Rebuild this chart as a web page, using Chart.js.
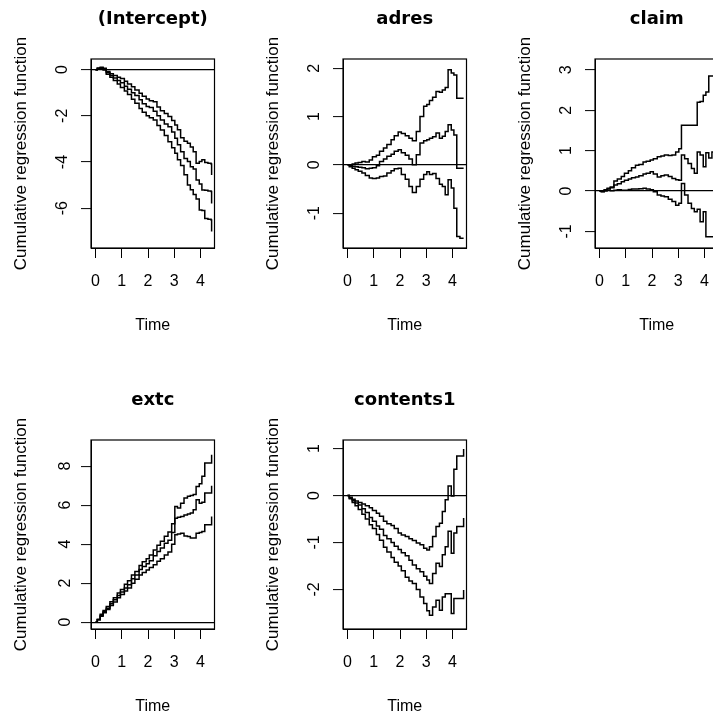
<!DOCTYPE html>
<html>
<head>
<meta charset="utf-8">
<script src="https://cdn.jsdelivr.net/npm/chart.js@4.4.0/dist/chart.umd.min.js"></script>
<style>
  html, body { margin: 0; padding: 0; background: #fff; overflow: hidden; }
  #wrap { position: relative; width: 713px; height: 715px; overflow: hidden; background: #fff; }
  #wrap canvas { position: absolute; }
</style>
</head>
<body>
<div id="wrap"></div>
<script>
// jump times shared by every covariate
const times = [0, 0.07, 0.18, 0.29, 0.41, 0.55, 0.68, 0.83, 0.95, 1.1, 1.22, 1.37, 1.5, 1.66, 1.78, 1.93,
  2.05, 2.2, 2.34, 2.47, 2.62, 2.76, 2.9, 3.02, 3.12, 3.24, 3.37, 3.5, 3.61, 3.72, 3.83, 3.95,
  4.05, 4.16, 4.28, 4.4, 4.42];
const xTicks = [0, 1, 2, 3, 4];

// (Intercept)
const interceptUpper = [0, 0.06, 0.1, 0.06, -0.08, -0.18, -0.25, -0.33, -0.38, -0.5, -0.62, -0.74, -0.88, -1.02, -1.15, -1.27,
  -1.35, -1.39, -1.62, -1.78, -1.9, -2.03, -2.2, -2.4, -2.6, -2.95, -3.1, -3.19, -3.35, -3.55, -4.05, -3.98,
  -3.9, -4.02, -4.05, -4.08, -4.56];
const interceptEst = [0, 0.06, 0.08, 0.02, -0.14, -0.25, -0.36, -0.47, -0.57, -0.72, -0.85, -1.0, -1.12, -1.3, -1.48, -1.6,
  -1.64, -1.8, -2.0, -2.18, -2.35, -2.47, -2.7, -2.97, -3.25, -3.55, -3.85, -3.98, -4.2, -4.3, -4.78, -4.95,
  -5.21, -5.22, -5.25, -5.28, -5.79];
const interceptLower = [0, 0.05, 0.06, -0.02, -0.2, -0.33, -0.47, -0.62, -0.77, -0.93, -1.08, -1.28, -1.46, -1.68, -1.85, -2.0,
  -2.08, -2.18, -2.42, -2.61, -2.85, -3.12, -3.38, -3.62, -3.9, -4.15, -4.55, -4.99, -5.2, -5.4, -5.6, -6.08,
  -6.1, -6.44, -6.48, -6.51, -7.01];
const interceptTicks = [-6, -4, -2, 0];

// adres
const adresUpper = [0, 0.0, 0.02, 0.04, 0.05, 0.07, 0.06, 0.1, 0.17, 0.2, 0.28, 0.35, 0.42, 0.52, 0.6, 0.68,
  0.65, 0.6, 0.55, 0.5, 0.69, 1.0, 1.21, 1.25, 1.33, 1.4, 1.52, 1.5, 1.55, 1.6, 1.97, 1.9,
  1.86, 1.38, 1.38, 1.38, 1.38];
const adresEst = [0, -0.02, -0.03, -0.04, -0.05, -0.06, -0.08, -0.07, -0.06, -0.02, 0.07, 0.12, 0.18, 0.22, 0.28, 0.31,
  0.25, 0.2, 0.12, 0.0, 0.21, 0.45, 0.5, 0.52, 0.55, 0.58, 0.66, 0.55, 0.59, 0.69, 0.83, 0.72,
  0.62, -0.07, -0.07, -0.07, -0.07];
const adresLower = [0, -0.04, -0.07, -0.1, -0.13, -0.17, -0.22, -0.27, -0.28, -0.27, -0.24, -0.23, -0.17, -0.12, -0.08, -0.07,
  -0.2, -0.3, -0.45, -0.57, -0.45, -0.3, -0.2, -0.14, -0.2, -0.18, -0.28, -0.4, -0.45, -0.62, -0.31, -0.48,
  -0.9, -1.48, -1.52, -1.52, -1.52];
const adresTicks = [-1, 0, 1, 2];

// claim
const claimUpper = [0, 0.0, 0.03, 0.07, 0.1, 0.25, 0.3, 0.36, 0.44, 0.5, 0.58, 0.64, 0.66, 0.72, 0.74, 0.77,
  0.8, 0.85, 0.87, 0.89, 0.88, 0.89, 0.97, 1.05, 1.63, 1.63, 1.63, 1.63, 1.63, 2.2, 2.22, 2.37,
  2.45, 2.85, 2.85, 2.85, 2.85];
const claimEst = [0, -0.01, 0.02, 0.05, 0.08, 0.15, 0.18, 0.23, 0.27, 0.3, 0.33, 0.35, 0.38, 0.42, 0.44, 0.48,
  0.42, 0.35, 0.38, 0.4, 0.36, 0.31, 0.28, 0.27, 0.89, 0.8, 0.68, 0.56, 0.44, 0.97, 0.89, 0.6,
  0.95, 0.82, 0.97, 0.97, 0.97];
const claimLower = [0, -0.02, 0.0, 0.02, 0.01, 0.02, 0.03, 0.02, 0.02, 0.04, 0.05, 0.05, 0.06, 0.07, 0.05, 0.03,
  -0.02, -0.1, -0.12, -0.14, -0.2, -0.26, -0.35, -0.3, 0.19, -0.1, -0.3, -0.43, -0.51, -0.45, -0.76, -0.51,
  -1.13, -1.13, -1.13, -1.13, -1.13];
const claimTicks = [-1, 0, 1, 2, 3];

// extc
const extcUpper = [0, 0.15, 0.4, 0.6, 0.8, 1.05, 1.25, 1.5, 1.68, 1.95, 2.12, 2.42, 2.6, 2.9, 3.1, 3.25,
  3.45, 3.7, 3.95, 4.15, 4.4, 4.62, 5.05, 5.93, 5.85, 6.1, 6.36, 6.45, 6.5, 6.54, 6.96, 7.1,
  7.48, 8.16, 8.16, 8.16, 8.59];
const extcEst = [0, 0.13, 0.35, 0.55, 0.72, 0.95, 1.15, 1.37, 1.55, 1.75, 1.92, 2.22, 2.42, 2.7, 2.85, 3.0,
  3.15, 3.4, 3.62, 3.8, 4.05, 4.2, 4.6, 5.33, 5.38, 5.42, 5.5, 5.55, 5.6, 5.76, 6.28, 6.1,
  6.15, 6.62, 6.62, 6.62, 7.0];
const extcLower = [0, 0.12, 0.3, 0.48, 0.65, 0.85, 1.03, 1.25, 1.42, 1.6, 1.75, 1.99, 2.2, 2.42, 2.55, 2.68,
  2.8, 2.95, 3.12, 3.25, 3.45, 3.6, 4.0, 4.48, 4.52, 4.56, 4.42, 4.39, 4.31, 4.31, 4.56, 4.6,
  4.65, 4.99, 4.99, 4.99, 5.42];
const extcTicks = [0, 2, 4, 6, 8];

// contents1
const contentsUpper = [0, -0.04, -0.08, -0.12, -0.15, -0.18, -0.22, -0.26, -0.32, -0.38, -0.44, -0.55, -0.6, -0.64, -0.7, -0.8,
  -0.84, -0.87, -0.92, -0.96, -1.01, -1.05, -1.12, -1.16, -1.09, -0.87, -0.66, -0.59, -0.34, -0.09, 0.2, -0.01,
  0.56, 0.84, 0.84, 0.84, 0.99];
const contentsEst = [0, -0.06, -0.11, -0.16, -0.2, -0.28, -0.36, -0.47, -0.55, -0.65, -0.72, -0.85, -0.92, -1.0, -1.08, -1.15,
  -1.22, -1.28, -1.38, -1.48, -1.56, -1.62, -1.72, -1.8, -1.87, -1.66, -1.44, -1.51, -1.26, -1.09, -0.76, -1.23,
  -0.8, -0.66, -0.66, -0.66, -0.48];
const contentsLower = [0, -0.07, -0.15, -0.22, -0.3, -0.4, -0.5, -0.62, -0.7, -0.83, -0.95, -1.1, -1.2, -1.32, -1.42, -1.5,
  -1.6, -1.74, -1.82, -1.87, -2.0, -2.16, -2.3, -2.45, -2.55, -2.37, -2.23, -2.44, -2.16, -2.09, -2.09, -2.51,
  -2.19, -2.19, -2.19, -2.19, -2.01];
const contentsTicks = [-2, -1, 0, 1];

const panels = [
  { title: '(Intercept)', series: [interceptUpper, interceptEst, interceptLower], yTicks: interceptTicks, yMin: -7.72, yMax: 0.46, col: 0, row: 0 },
  { title: 'adres', series: [adresUpper, adresEst, adresLower], yTicks: adresTicks, yMin: -1.72, yMax: 2.19, col: 1, row: 0 },
  { title: 'claim', series: [claimUpper, claimEst, claimLower], yTicks: claimTicks, yMin: -1.41, yMax: 3.27, col: 2, row: 0 },
  { title: 'extc', series: [extcUpper, extcEst, extcLower], yTicks: extcTicks, yMin: -0.35, yMax: 9.34, col: 0, row: 1 },
  { title: 'contents1', series: [contentsUpper, contentsEst, contentsLower], yTicks: contentsTicks, yMin: -2.84, yMax: 1.18, col: 1, row: 1 }
];

const PANEL_W = 252;
const PANEL_H = 381;

// draws the box around the plot region
const boxPlugin = {
  id: 'box',
  afterDraw(chart) {
    const { ctx, chartArea: a } = chart;
    ctx.save();
    ctx.strokeStyle = '#000';
    ctx.lineWidth = 1.2;
    ctx.strokeRect(a.left, a.top, a.right - a.left, a.bottom - a.top);
    ctx.restore();
  }
};

const wrap = document.getElementById('wrap');

panels.forEach(p => {
  const canvas = document.createElement('canvas');
  canvas.width = PANEL_W;
  canvas.height = PANEL_H;
  canvas.style.width = PANEL_W + 'px';
  canvas.style.height = PANEL_H + 'px';
  canvas.style.left = (p.col * PANEL_W) + 'px';
  canvas.style.top = (p.row * PANEL_H) + 'px';
  wrap.appendChild(canvas);

  new Chart(canvas, {
    type: 'line',
    data: {
      datasets: p.series.map(vals => ({
        data: times.map((t, i) => ({ x: t, y: vals[i] })),
        borderColor: '#000',
        borderWidth: 1.5,
        pointRadius: 0,
        stepped: true,
        fill: false
      }))
    },
    options: {
      responsive: false,
      animation: false,
      devicePixelRatio: 1,
      layout: { padding: { left: 0, right: 37.5, top: 0, bottom: 0 } },
      plugins: {
        legend: { display: false },
        tooltip: { enabled: false },
        title: {
          display: true,
          fullSize: false,
          text: p.title,
          color: '#000',
          font: { family: 'DejaVu Sans', size: 18, weight: 'bold', lineHeight: 1.2 },
          padding: { top: 8.7, bottom: 28.7 }
        }
      },
      scales: {
        x: {
          type: 'linear',
          min: -0.17,
          max: 4.53,
          afterBuildTicks: s => { s.ticks = xTicks.map(v => ({ value: v })); },
          afterFit: s => { s.height = PANEL_H - 248; },
          ticks: { color: '#000', autoSkip: false, padding: 14, font: { family: 'Liberation Sans', size: 16 } },
          grid: { drawOnChartArea: false, tickLength: 10, tickColor: '#000', tickWidth: 1 },
          border: { display: true, color: '#000', width: 1 },
          title: { display: true, text: 'Time', color: '#000', font: { family: 'Liberation Sans', size: 16 }, padding: { top: 0, bottom: 45.4 } }
        },
        y: {
          type: 'linear',
          min: p.yMin,
          max: p.yMax,
          afterBuildTicks: s => { s.ticks = p.yTicks.map(v => ({ value: v })); },
          afterFit: s => { s.width = 91; },
          ticks: { color: '#000', autoSkip: false, minRotation: 90, maxRotation: 90, crossAlign: 'center', padding: 11, font: { family: 'Liberation Sans', size: 16 } },
          grid: {
            drawOnChartArea: true,
            color: c => (c.tick && c.tick.value === 0 ? '#000' : 'rgba(0,0,0,0)'),
            lineWidth: 1.2,
            tickLength: 10,
            tickColor: '#000',
            tickWidth: 1
          },
          border: { display: true, color: '#000', width: 1 },
          title: { display: true, text: 'Cumulative regression function', color: '#000', font: { family: 'Liberation Sans', size: 17 }, padding: { top: 11.3, bottom: 0 } }
        }
      }
    },
    plugins: [boxPlugin]
  });
});
</script>
</body>
</html>
